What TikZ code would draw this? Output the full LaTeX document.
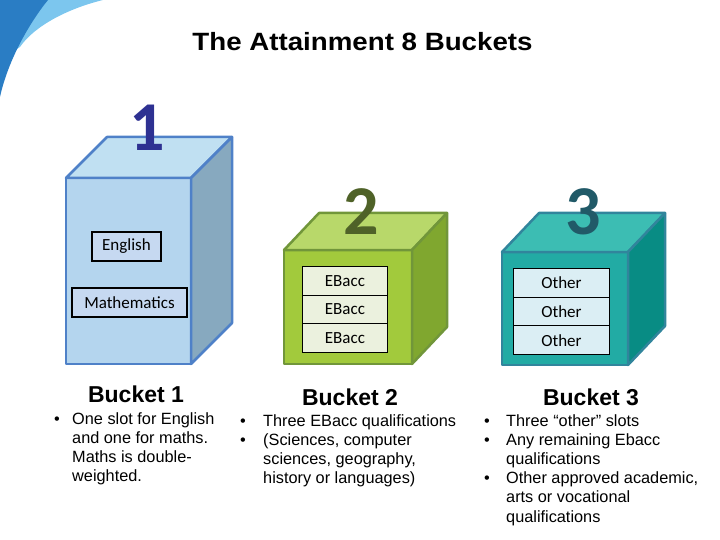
\documentclass[tikz,border=0pt]{standalone}
\usepackage{fontspec}
\setmainfont{Liberation Sans}
\newfontfamily\calfont{Carlito}
\definecolor{swdark}{HTML}{2A7DC4}
\definecolor{swlight}{HTML}{7CC6EE}
\definecolor{aborder}{HTML}{4F81C8}
\definecolor{afront}{HTML}{B4D5EE}
\definecolor{atop}{HTML}{C0E0F2}
\definecolor{aside}{HTML}{87A9BF}
\definecolor{adigit}{HTML}{2E3192}
\definecolor{abox}{HTML}{C6D9F1}
\definecolor{bborder}{HTML}{71963A}
\definecolor{bfront}{HTML}{A2CA3C}
\definecolor{btop}{HTML}{B8D86A}
\definecolor{bside}{HTML}{80A72F}
\definecolor{bdigit}{HTML}{4F6228}
\definecolor{bcell}{HTML}{EBF1DE}
\definecolor{cborder}{HTML}{31859C}
\definecolor{cfront}{HTML}{22ABA4}
\definecolor{ctop}{HTML}{3CBDB3}
\definecolor{cside}{HTML}{088C84}
\definecolor{cdigit}{HTML}{215A68}
\definecolor{ccell}{HTML}{DBEEF4}
\tikzset{
  cubeline/.style={line width=2.5pt, line join=round},
  digit/.style={font=\calfont\bfseries\fontsize{70}{70}\selectfont, inner sep=0pt},
  subjbox/.style={draw=black, line width=1.6pt, fill=abox, font=\calfont\fontsize{17}{17}\selectfont, inner sep=0pt, minimum height=29pt},
  cellbox/.style={draw=black, line width=0.9pt, font=\calfont\fontsize{17}{17}\selectfont, inner sep=0pt, anchor=north west},
  bucketlabel/.style={font=\bfseries\fontsize{23}{23}\selectfont, inner sep=0pt, anchor=base},
  bodytext/.style={font=\fontsize{16.3}{19.4}\selectfont, inner sep=0pt, anchor=base west},
  bulletmark/.style={font=\fontsize{16.3}{19.4}\selectfont, inner sep=0pt, anchor=base},
}
\begin{document}
\begin{tikzpicture}[x=1pt,y=-1pt]
\useasboundingbox (0,0) rectangle (720,540);
% swoosh
\fill[swlight] (0,0) -- (103,0) .. controls (70,8) and (35,25) .. (20,47) -- (0,60) -- cycle;
\fill[swdark] (0,0) -- (48,0) .. controls (30,22) and (8,60) .. (0,97) -- cycle;
% title
\node[font=\bfseries\fontsize{25}{25}\selectfont, inner sep=0pt, anchor=base] (title) at (362.5,51) {\scalebox{1.108}[1]{The Attainment 8 Buckets}};

% ---- cube 1
\coordinate (a1) at (66,178); \coordinate (a2) at (191,178);
\coordinate (a3) at (191,364); \coordinate (a4) at (66,364);
\coordinate (a5) at (107,137); \coordinate (a6) at (232,137);
\coordinate (a7) at (232,323);
\filldraw[cubeline, draw=aborder, fill=afront] (a1) -- (a2) -- (a3) -- (a4) -- cycle;
\filldraw[cubeline, draw=aborder, fill=atop] (a1) -- (a5) -- (a6) -- (a2) -- cycle;
\filldraw[cubeline, draw=aborder, fill=aside] (a2) -- (a6) -- (a7) -- (a3) -- cycle;
\node[subjbox, minimum width=69pt] (english) at (126.5,246.5) {English};
\node[subjbox, minimum width=115pt] (maths) at (129.5,302.5) {Mathematics};
\node[digit, text=adigit] (d1) at (147,127.5) {1};

% ---- cube 2
\coordinate (b1) at (284,250); \coordinate (b2) at (412,250);
\coordinate (b3) at (412,364); \coordinate (b4) at (284,364);
\coordinate (b5) at (319,213); \coordinate (b6) at (447,213);
\coordinate (b7) at (447,327);
\filldraw[cubeline, draw=bborder, fill=bfront] (b1) -- (b2) -- (b3) -- (b4) -- cycle;
\filldraw[cubeline, draw=bborder, fill=btop] (b1) -- (b5) -- (b6) -- (b2) -- cycle;
\filldraw[cubeline, draw=bborder, fill=bside] (b2) -- (b6) -- (b7) -- (b3) -- cycle;
\node[cellbox, fill=bcell, minimum width=85pt, minimum height=28.5pt] (e1) at (302,266) {EBacc};
\node[cellbox, fill=bcell, minimum width=85pt, minimum height=28.5pt] (e2) at (302,294.5) {EBacc};
\node[cellbox, fill=bcell, minimum width=85pt, minimum height=28.5pt] (e3) at (302,323) {EBacc};
\node[digit, text=bdigit] (d2) at (361,211.5) {2};

% ---- cube 3
\coordinate (c1) at (502,252); \coordinate (c2) at (628,252);
\coordinate (c3) at (628,365); \coordinate (c4) at (502,365);
\coordinate (c5) at (539,213); \coordinate (c6) at (665,213);
\coordinate (c7) at (665,326);
\filldraw[cubeline, draw=cborder, fill=cfront] (c1) -- (c2) -- (c3) -- (c4) -- cycle;
\filldraw[cubeline, draw=cborder, fill=ctop] (c1) -- (c5) -- (c6) -- (c2) -- cycle;
\filldraw[cubeline, draw=cborder, fill=cside] (c2) -- (c6) -- (c7) -- (c3) -- cycle;
\node[cellbox, fill=ccell, minimum width=96pt, minimum height=28.7pt] (o1) at (513,268) {Other};
\node[cellbox, fill=ccell, minimum width=96pt, minimum height=28.7pt] (o2) at (513,296.7) {Other};
\node[cellbox, fill=ccell, minimum width=96pt, minimum height=28.7pt] (o3) at (513,325.4) {Other};
\node[digit, text=cdigit] (d3) at (583,211.5) {3};

% ---- labels
\node[bucketlabel] (l1) at (136,402.7) {Bucket 1};
\node[bucketlabel] (l2) at (350,405) {Bucket 2};
\node[bucketlabel] (l3) at (591,405) {Bucket 3};

% bucket 1 text
\node[bulletmark] (p1a) at (57,424.5) {•};
\node[bodytext] (t1a) at (72,424.5) {One slot for English};
\node[bodytext] (t1b) at (72,443.6) {and one for maths.};
\node[bodytext] (t1c) at (72,462.7) {Maths is double-};
\node[bodytext] (t1d) at (72,481.8) {weighted.};
% bucket 2 text
\node[bulletmark] (p2a) at (243,426.5) {•};
\node[bulletmark] (p2b) at (243,445.6) {•};
\node[bodytext] (t2a) at (263,426.5) {Three EBacc qualifications};
\node[bodytext] (t2b) at (263,445.6) {(Sciences, computer};
\node[bodytext] (t2c) at (263,464.7) {sciences, geography,};
\node[bodytext] (t2d) at (263,483.8) {history or languages)};
% bucket 3 text
\node[bulletmark] (p3a) at (487,426.5) {•};
\node[bulletmark] (p3b) at (487,445.6) {•};
\node[bulletmark] (p3c) at (487,483.8) {•};
\node[bodytext] (t3a) at (506,426.5) {Three “other” slots};
\node[bodytext] (t3b) at (506,445.6) {Any remaining Ebacc};
\node[bodytext] (t3c) at (506,464.7) {qualifications};
\node[bodytext] (t3d) at (506,483.8) {Other approved academic,};
\node[bodytext] (t3e) at (506,502.9) {arts or vocational};
\node[bodytext] (t3f) at (506,522) {qualifications};
\end{tikzpicture}
\end{document}
